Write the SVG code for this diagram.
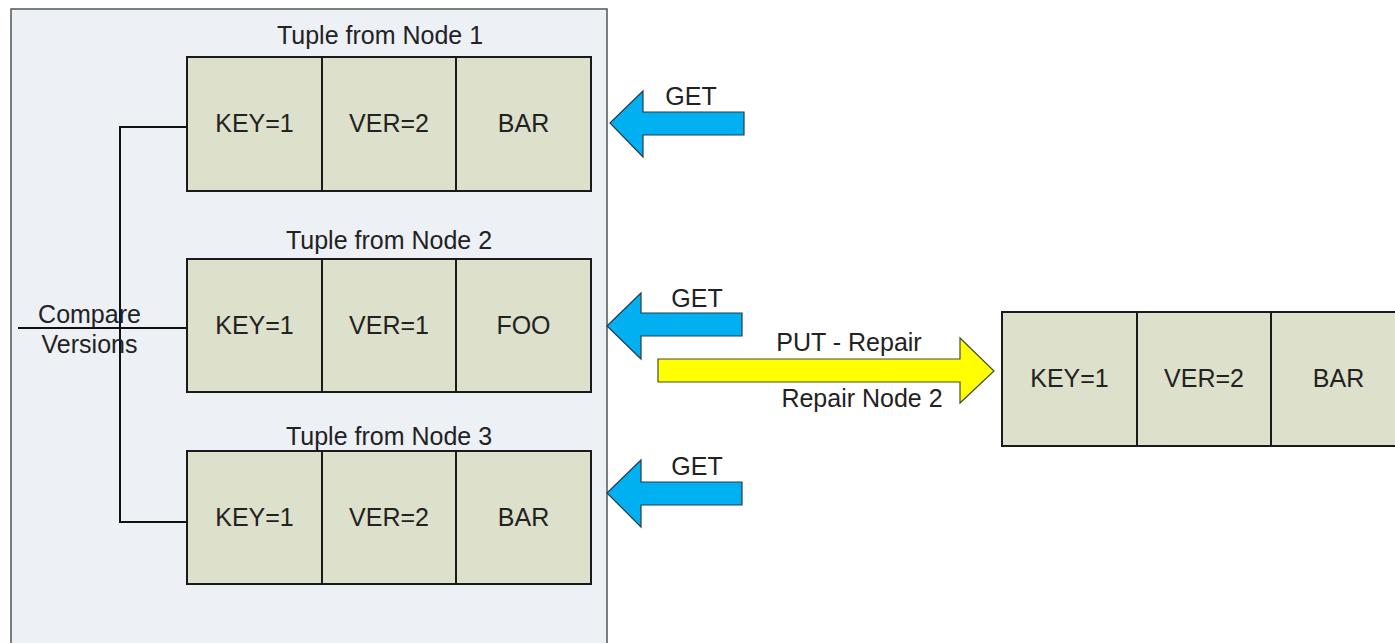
<svg xmlns="http://www.w3.org/2000/svg" width="1395" height="643" viewBox="0 0 1395 643">
  <style>
    .txt { font-family: "Liberation Sans", Arial, sans-serif; font-size: 25px; fill: #222; }
    .mid { text-anchor: middle; }
    .cell { fill: #dde0cb; stroke: #1a1a1a; stroke-width: 2; }
    .div { stroke: #1a1a1a; stroke-width: 2; }
    .wire { fill: none; stroke: #111; stroke-width: 2; }
    .get { fill: #00b0f0; stroke: #2a3a48; stroke-width: 1.2; stroke-linejoin: miter; }
    .put { fill: #ffff00; stroke: #4a4a30; stroke-width: 1.2; stroke-linejoin: miter; }
  </style>

  <!-- coordinator panel -->
  <rect id="panel" x="11" y="9" width="596" height="650" fill="#edf0f5" stroke="#555" stroke-width="1.5"/>

  <!-- version-compare wiring -->
  <g id="connectors">
    <polyline class="wire" points="187,127 120,127 120,522 187,522"/>
    <line class="wire" x1="18" y1="328" x2="187" y2="328"/>
    <path class="get" d="M610,123 L643,91 L643,112 L744,112 L744,135 L643,135 L643,157 Z"/>
    <path class="get" d="M607,326 L641,293 L641,313 L742,313 L742,336 L641,336 L641,359 Z"/>
    <path class="get" d="M607,493 L641,460 L641,482 L742,482 L742,505 L641,505 L641,527 Z"/>
    <path class="put" d="M658,359 L960,359 L960,338 L994,371 L960,403 L960,382 L658,382 Z"/>
  </g>

  <g id="compare-label">
    <text class="txt mid" x="89.5" y="323">Compare</text>
    <text class="txt mid" x="89.5" y="353">Versions</text>
  </g>

  <g id="get-labels">
    <text class="txt mid" x="691" y="105">GET</text>
    <text class="txt mid" x="697" y="307">GET</text>
    <text class="txt mid" x="697" y="475">GET</text>
  </g>

  <g id="put-labels">
    <text class="txt mid" x="849" y="351">PUT - Repair</text>
    <text class="txt mid" x="862" y="407">Repair Node 2</text>
  </g>

  <!-- tuple read from node 1 -->
  <g id="tuple-node1">
    <text class="txt mid" x="380" y="44">Tuple from Node 1</text>
    <rect class="cell" x="187" y="57" width="404" height="134"/>
    <line class="div" x1="322" y1="57" x2="322" y2="191"/>
    <line class="div" x1="456" y1="57" x2="456" y2="191"/>
    <text class="txt mid" x="254.5" y="132">KEY=1</text>
    <text class="txt mid" x="389" y="132">VER=2</text>
    <text class="txt mid" x="523.5" y="132">BAR</text>
  </g>

  <!-- tuple read from node 2 -->
  <g id="tuple-node2">
    <text class="txt mid" x="389" y="249">Tuple from Node 2</text>
    <rect class="cell" x="187" y="259" width="404" height="133"/>
    <line class="div" x1="322" y1="259" x2="322" y2="392"/>
    <line class="div" x1="456" y1="259" x2="456" y2="392"/>
    <text class="txt mid" x="254.5" y="334">KEY=1</text>
    <text class="txt mid" x="389" y="334">VER=1</text>
    <text class="txt mid" x="523.5" y="334">FOO</text>
  </g>

  <!-- tuple read from node 3 -->
  <g id="tuple-node3">
    <text class="txt mid" x="389" y="445">Tuple from Node 3</text>
    <rect class="cell" x="187" y="451" width="404" height="133"/>
    <line class="div" x1="322" y1="451" x2="322" y2="584"/>
    <line class="div" x1="456" y1="451" x2="456" y2="584"/>
    <text class="txt mid" x="254.5" y="526">KEY=1</text>
    <text class="txt mid" x="389" y="526">VER=2</text>
    <text class="txt mid" x="523.5" y="526">BAR</text>
  </g>

  <!-- repaired tuple written back to node 2 -->
  <g id="tuple-repaired">
    <rect class="cell" x="1002" y="312" width="404" height="134"/>
    <line class="div" x1="1137" y1="312" x2="1137" y2="446"/>
    <line class="div" x1="1271" y1="312" x2="1271" y2="446"/>
    <text class="txt mid" x="1069.5" y="387">KEY=1</text>
    <text class="txt mid" x="1204" y="387">VER=2</text>
    <text class="txt mid" x="1338.5" y="387">BAR</text>
  </g>
</svg>
